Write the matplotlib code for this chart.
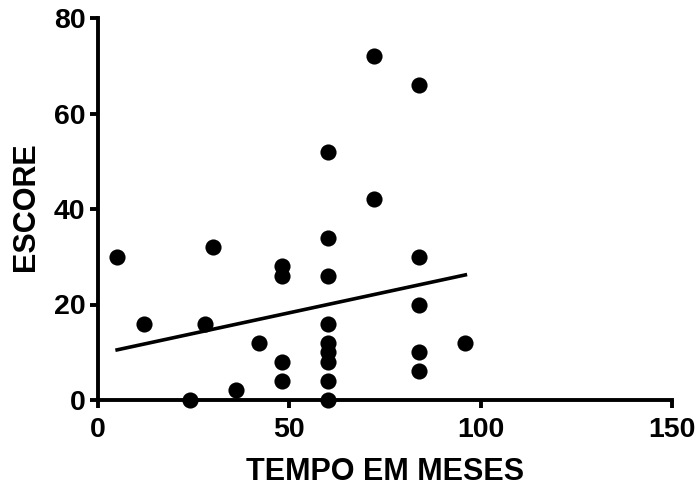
import matplotlib
matplotlib.use("Agg")
import matplotlib.pyplot as plt
import numpy as np

plt.rcParams['font.family'] = ['Liberation Sans', 'DejaVu Sans']

# data
tempo = [5, 12, 24, 28, 30, 36, 42,
         48, 48, 48, 48,
         60, 60, 60, 60, 60, 60, 60, 60, 60,
         72, 72,
         84, 84, 84, 84, 84,
         96]
escore = [30, 16, 0, 16, 32, 2, 12,
          28, 26, 8, 4,
          52, 34, 26, 16, 12, 10, 8, 4, 0,
          72, 42,
          66, 30, 20, 10, 6,
          12]
# regression line
fit_slope = 0.1725
fit_intercept = 9.64
x_ticks = [0, 50, 100, 150]
y_ticks = [0, 20, 40, 60, 80]

fig = plt.figure(figsize=(6.99, 4.88), dpi=100)
ax = fig.add_axes([98/699, 1 - 400/488, (672-98)/699, (400-18)/488])

ax.scatter(tempo, escore, s=135, color='black', zorder=3, clip_on=False, linewidths=0)
xl = np.array([min(tempo), max(tempo)])
ax.plot(xl, fit_intercept + fit_slope * xl, color='black', lw=2.6, zorder=2)

ax.set_xlim(0, 150)
ax.set_ylim(0, 80)
ax.set_xticks(x_ticks)
ax.set_yticks(y_ticks)
for s in ['top', 'right']:
    ax.spines[s].set_visible(False)
for s in ['left', 'bottom']:
    ax.spines[s].set_linewidth(2.8)
ax.tick_params(width=2.8, length=6, labelsize=20.5)
ax.tick_params(axis='y', pad=3)
ax.tick_params(axis='x', pad=6.5)
for lab in ax.get_xticklabels() + ax.get_yticklabels():
    lab.set_fontweight('bold')

fig.text(385/699, 1 - 480/488, 'TEMPO EM MESES', fontsize=22, fontweight='bold',
         ha='center', va='baseline')
fig.text(34/699, 1 - 207/488, 'ESCORE', fontsize=22, fontweight='bold',
         ha='center', va='baseline', rotation=90, rotation_mode='anchor')

fig.savefig('out.png', dpi=100)
